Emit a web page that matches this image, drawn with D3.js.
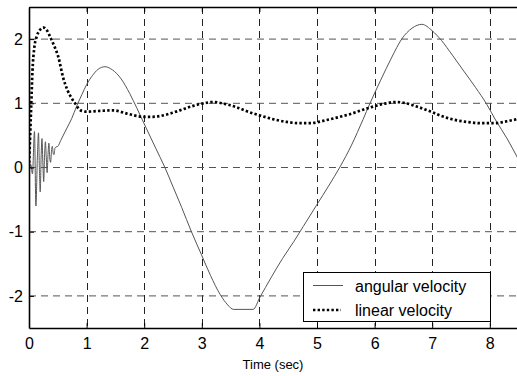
<!DOCTYPE html>
<html><head><meta charset="utf-8">
<script src="https://cdn.jsdelivr.net/npm/d3@7"></script>
<style>
html,body{margin:0;padding:0;background:#fff;}
text{font-family:"Liberation Sans",Arial,Helvetica,sans-serif;}
</style></head>
<body><svg id="c" width="517" height="376"></svg>
<script>
// ---- data ----
const xTicks = [0,1,2,3,4,5,6,7,8];
const yTicks = [-2,-1,0,1,2];
const xLabel = "Time (sec)";
const seriesNames = ["angular velocity","linear velocity"];
const angT = [0,0.03,0.06,0.095,0.12,0.145,0.165,0.18,0.195,0.21,0.225,0.24,0.255,0.27,0.285,0.3,0.315,0.33,0.345,0.36,0.375,0.39,0.405,0.42,0.435,0.45,0.47,0.5,0.55,0.65,0.74,0.83,0.92,1.0,1.1,1.2,1.32,1.45,1.6,1.75,1.87,2.0,2.2,2.36,2.5,2.65,2.82,2.99,3.15,3.32,3.45,3.55,3.89,4.01,4.2,4.4,4.6,4.76,4.99,5.2,5.4,5.6,5.8,5.92,6.1,6.3,6.47,6.65,6.82,7.0,7.16,7.35,7.55,7.75,7.95,8.1,8.3,8.5];
const angV = [0,0.05,-0.1,0.56,-0.6,0.15,0.54,0.0,-0.38,0.15,0.45,0.1,-0.22,0.18,0.4,0.15,-0.08,0.2,0.38,0.15,0.08,0.25,0.33,0.22,0.2,0.3,0.32,0.33,0.42,0.6,0.76,0.96,1.14,1.29,1.43,1.53,1.57,1.52,1.38,1.15,0.93,0.68,0.3,0.0,-0.3,-0.62,-1.0,-1.35,-1.68,-1.98,-2.14,-2.21,-2.21,-2.02,-1.72,-1.42,-1.15,-0.92,-0.59,-0.29,0.01,0.35,0.75,1.0,1.35,1.72,2.0,2.17,2.23,2.13,1.98,1.75,1.5,1.25,0.98,0.74,0.45,0.12];
const linT = [0,0.02,0.04,0.06,0.09,0.13,0.18,0.25,0.3,0.36,0.42,0.51,0.59,0.67,0.74,0.8,0.86,0.92,1.0,1.2,1.46,1.7,1.98,2.15,2.45,2.62,2.85,3.03,3.2,3.4,3.6,3.8,4.01,4.25,4.47,4.7,4.88,5.17,5.4,5.57,5.8,5.98,6.2,6.38,6.55,6.73,6.95,7.14,7.35,7.6,7.85,8.06,8.3,8.5];
const linV = [0,0.5,1.0,1.5,1.85,2.03,2.13,2.18,2.15,2.05,1.93,1.72,1.41,1.2,1.08,1.0,0.92,0.88,0.87,0.88,0.89,0.84,0.79,0.79,0.84,0.89,0.96,1.0,1.02,0.99,0.94,0.87,0.81,0.75,0.71,0.69,0.69,0.74,0.79,0.83,0.9,0.95,1.0,1.02,1.0,0.95,0.88,0.81,0.75,0.71,0.69,0.69,0.72,0.76];

// ---- layout ----
const L = 29, R = 518.6, T = 7, B = 328;
const svg = d3.select("#c");
const x = d3.scaleLinear().domain([0,8.5]).range([L,R]);
const y = d3.scaleLinear().domain([-2.5,2.5]).range([B,T]);

svg.append("defs").append("clipPath").attr("id","clip")
  .append("rect").attr("x",L).attr("y",T).attr("width",R-L).attr("height",B-T);

// grid
const g = svg.append("g");
g.selectAll(".vg").data(xTicks.filter(d=>d>0)).enter().append("line")
  .attr("x1",d=>Math.round(x(d))+0.5).attr("x2",d=>Math.round(x(d))+0.5)
  .attr("y1",T).attr("y2",B).attr("stroke","#222").attr("stroke-width",1)
  .attr("stroke-dasharray","7,5");
g.selectAll(".hg").data(yTicks).enter().append("line")
  .attr("x1",L).attr("x2",R).attr("y1",d=>y(d)).attr("y2",d=>y(d))
  .attr("stroke","#555").attr("stroke-width",1).attr("stroke-dasharray","7,5");

// series
const plot = svg.append("g").attr("clip-path","url(#clip)");
const line = d3.line().x(d=>x(d[0])).y(d=>y(d[1])).curve(d3.curveMonotoneX);
plot.append("path").datum(angT.map((t,i)=>[t,angV[i]]))
  .attr("d",line).attr("fill","none").attr("stroke","#555").attr("stroke-width",1);
plot.append("path").datum(linT.map((t,i)=>[t,linV[i]]))
  .attr("d",line).attr("fill","none").attr("stroke","#000").attr("stroke-width",2.7)
  .attr("stroke-dasharray","2.4,2.2");

// axes
const xa = svg.append("g").attr("transform",`translate(0,${B})`)
  .call(d3.axisBottom(x).tickValues(xTicks).tickSizeInner(-5).tickSizeOuter(0).tickPadding(10));
const xaT = svg.append("g").attr("transform",`translate(0,${T})`)
  .call(d3.axisTop(x).tickValues(xTicks).tickSizeInner(-5).tickSizeOuter(0).tickFormat(""));
const ya = svg.append("g").attr("transform",`translate(${L},0)`)
  .call(d3.axisLeft(y).tickValues(yTicks).tickSizeInner(-5).tickSizeOuter(0).tickPadding(6));
[xa,xaT,ya].forEach(a=>{
  a.select(".domain").attr("stroke","#000").attr("stroke-width",1.6);
  a.selectAll(".tick line").attr("stroke","#000");
  a.selectAll("text").attr("font-size",16).attr("fill","#000")
   .attr("font-family",'"Liberation Sans",Arial,sans-serif');
});
ya.selectAll("text").text(d=>d<0?"-"+Math.abs(d):d);

svg.append("text").attr("x",273).attr("y",369).attr("text-anchor","middle")
  .attr("font-size",13).text(xLabel);

// legend
const lg = svg.append("g");
lg.append("rect").attr("x",303.5).attr("y",272.5).attr("width",187).attr("height",49)
  .attr("fill","#fff").attr("stroke","#000").attr("stroke-width",1);
lg.append("line").attr("x1",313).attr("x2",343).attr("y1",285.5).attr("y2",285.5)
  .attr("stroke","#555").attr("stroke-width",1);
lg.append("line").attr("x1",313).attr("x2",341).attr("y1",310).attr("y2",310)
  .attr("stroke","#000").attr("stroke-width",2.7).attr("stroke-dasharray","2.4,2.2");
lg.append("text").attr("x",355).attr("y",292).attr("font-size",16).text(seriesNames[0]);
lg.append("text").attr("x",355).attr("y",316).attr("font-size",16).text(seriesNames[1]);
</script></body></html>
